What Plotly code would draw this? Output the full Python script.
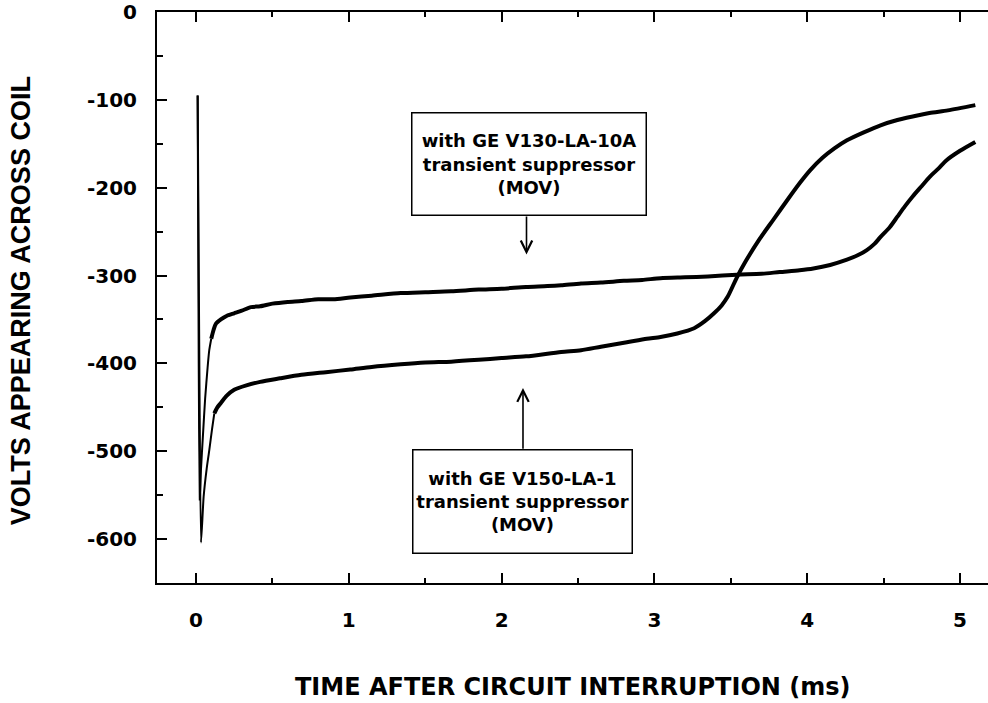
import plotly.graph_objects as go

# Coil voltage after interruption, two MOV suppressors (time in ms, volts)
t_v130 = [0.011, 0.018, 0.025, 0.033, 0.045, 0.06, 0.076, 0.087, 0.1, 0.115, 0.13, 0.163,
          0.2, 0.25, 0.3, 0.36, 0.42, 0.5, 0.6, 0.69, 0.8, 0.9, 1.01, 1.15, 1.34, 1.5,
          1.67, 1.85, 2.0, 2.16, 2.3, 2.39, 2.52, 2.65, 2.8, 2.92, 3.04, 3.2, 3.35, 3.54,
          3.7, 3.82, 3.95, 4.04, 4.15, 4.26, 4.33, 4.39, 4.44, 4.48, 4.54, 4.59, 4.64,
          4.69, 4.75, 4.8, 4.86, 4.91, 5.0, 5.1]
v_v130 = [-95, -400, -555, -520, -484, -440, -405, -385, -372, -362, -355, -350,
          -346, -343, -340, -336, -335, -332, -330, -329, -327, -327, -325, -323, -320, -319,
          -318, -316, -315, -313, -312, -311, -309, -308, -306, -305, -303, -302, -301, -299,
          -298, -296, -294, -292, -288, -282, -277, -271, -264, -256, -245, -233, -221,
          -210, -198, -188, -178, -169, -158, -148]

t_v150 = [0.011, 0.022, 0.033, 0.05, 0.07, 0.087, 0.105, 0.12, 0.14, 0.163, 0.2, 0.25,
          0.33, 0.42, 0.55, 0.69, 0.85, 1.01, 1.15, 1.34, 1.5, 1.67, 1.85, 2.0, 2.16,
          2.39, 2.52, 2.65, 2.82, 2.95, 3.04, 3.15, 3.26, 3.33, 3.39, 3.44, 3.48, 3.54,
          3.6, 3.69, 3.78, 3.87, 3.95, 4.02, 4.1, 4.18, 4.26, 4.37, 4.48, 4.59, 4.69,
          4.8, 4.92, 5.1]
v_v150 = [-95, -400, -604, -552, -520, -499, -475, -457, -450, -445, -437, -430,
          -425, -421, -417, -413, -410, -407, -404, -401, -399, -398, -396, -394, -392,
          -387, -385, -381, -376, -372, -370, -366, -360, -352, -343, -334, -324, -302,
          -283, -258, -236, -214, -195, -180, -166, -155, -146, -137, -129, -123, -119,
          -115, -112, -106]

x_ticks = [0, 1, 2, 3, 4, 5]
y_ticks = [0, -100, -200, -300, -400, -500, -600]

label_v130 = "with GE V130-LA-10A<br>transient suppressor<br>(MOV)"
label_v150 = "with GE V150-LA-1<br>transient suppressor<br>(MOV)"
x_title = "TIME AFTER CIRCUIT INTERRUPTION (ms)"
y_title = "VOLTS APPEARING ACROSS COIL"

BOLD = dict(family="DejaVu Sans", weight="bold", color="black")

fig = go.Figure()
# fast initial transient drawn thin, the slower recovery drawn as a heavy trace
for t, v, split in ((t_v130, v_v130, 8), (t_v150, v_v150, 7)):
    fig.add_trace(go.Scatter(x=t[:split + 1], y=v[:split + 1], mode="lines",
                             line=dict(color="black", width=2, shape="spline",
                                       smoothing=0.5),
                             showlegend=False, hoverinfo="skip"))
    fig.add_trace(go.Scatter(x=t[split:], y=v[split:], mode="lines",
                             line=dict(color="black", width=4, shape="spline",
                                       smoothing=0.7),
                             showlegend=False, hoverinfo="skip"))

tick_font = dict(size=20, **BOLD)
fig.update_xaxes(range=[-0.255, 5.183], tickvals=x_ticks,
                 ticktext=[str(v) for v in x_ticks], ticklabelstandoff=18,
                 showgrid=False, zeroline=False, showline=True, linecolor="black",
                 linewidth=2, mirror="ticks", ticks="inside", tickcolor="black",
                 tickwidth=1.5, ticklen=10, tickfont=tick_font,
                 minor=dict(dtick=0.5, ticks="inside", ticklen=5, tickwidth=1.5,
                            tickcolor="black"))
fig.update_yaxes(range=[-650, 0], tickvals=y_ticks,
                 ticktext=[str(v) for v in y_ticks], ticklabelstandoff=14,
                 showgrid=False, zeroline=False, showline=True, linecolor="black",
                 linewidth=2, mirror=False, ticks="inside", tickcolor="black",
                 tickwidth=1.5, ticklen=10, tickfont=tick_font,
                 minor=dict(dtick=50, ticks="inside", ticklen=6, tickwidth=1.5,
                            tickcolor="black"))

box_font = dict(size=18, **BOLD)
annotations = [
    dict(x=2.18, y=-173, xref="x", yref="y", text=label_v130, showarrow=False,
         width=233, height=101, bordercolor="black", borderwidth=1.5, borderpad=0,
         bgcolor="white", font=box_font, align="center", valign="middle"),
    dict(x=2.14, y=-557, xref="x", yref="y", text=label_v150, showarrow=False,
         width=218, height=102, bordercolor="black", borderwidth=1.5, borderpad=0,
         bgcolor="white", font=box_font, align="center", valign="middle"),
    # pointer arrows from the labels to their traces
    dict(x=2.163, y=-276, ax=2.163, ay=-231, xref="x", yref="y", axref="x", ayref="y",
         text="", showarrow=True, arrowhead=5, arrowsize=1.4, arrowwidth=1.6,
         arrowcolor="black", standoff=0, startstandoff=0),
    dict(x=2.14, y=-428, ax=2.14, ay=-499, xref="x", yref="y", axref="x", ayref="y",
         text="", showarrow=True, arrowhead=5, arrowsize=1.4, arrowwidth=1.6,
         arrowcolor="black", standoff=0, startstandoff=0),
    dict(x=0.5, y=-0.182, xref="paper", yref="paper", text=x_title, showarrow=False,
         xanchor="center", yanchor="middle", font=dict(size=24, **BOLD)),
    dict(x=-0.1627, y=0.495, xref="paper", yref="paper", text=y_title, showarrow=False,
         textangle=-90, xanchor="center", yanchor="middle",
         font=dict(family="Liberation Sans", weight="bold", size=27, color="black")),
]

fig.update_layout(width=988, height=703, margin=dict(l=157, r=0, t=12, b=120),
                  paper_bgcolor="white", plot_bgcolor="white",
                  annotations=annotations)

fig.write_html("out.html")
